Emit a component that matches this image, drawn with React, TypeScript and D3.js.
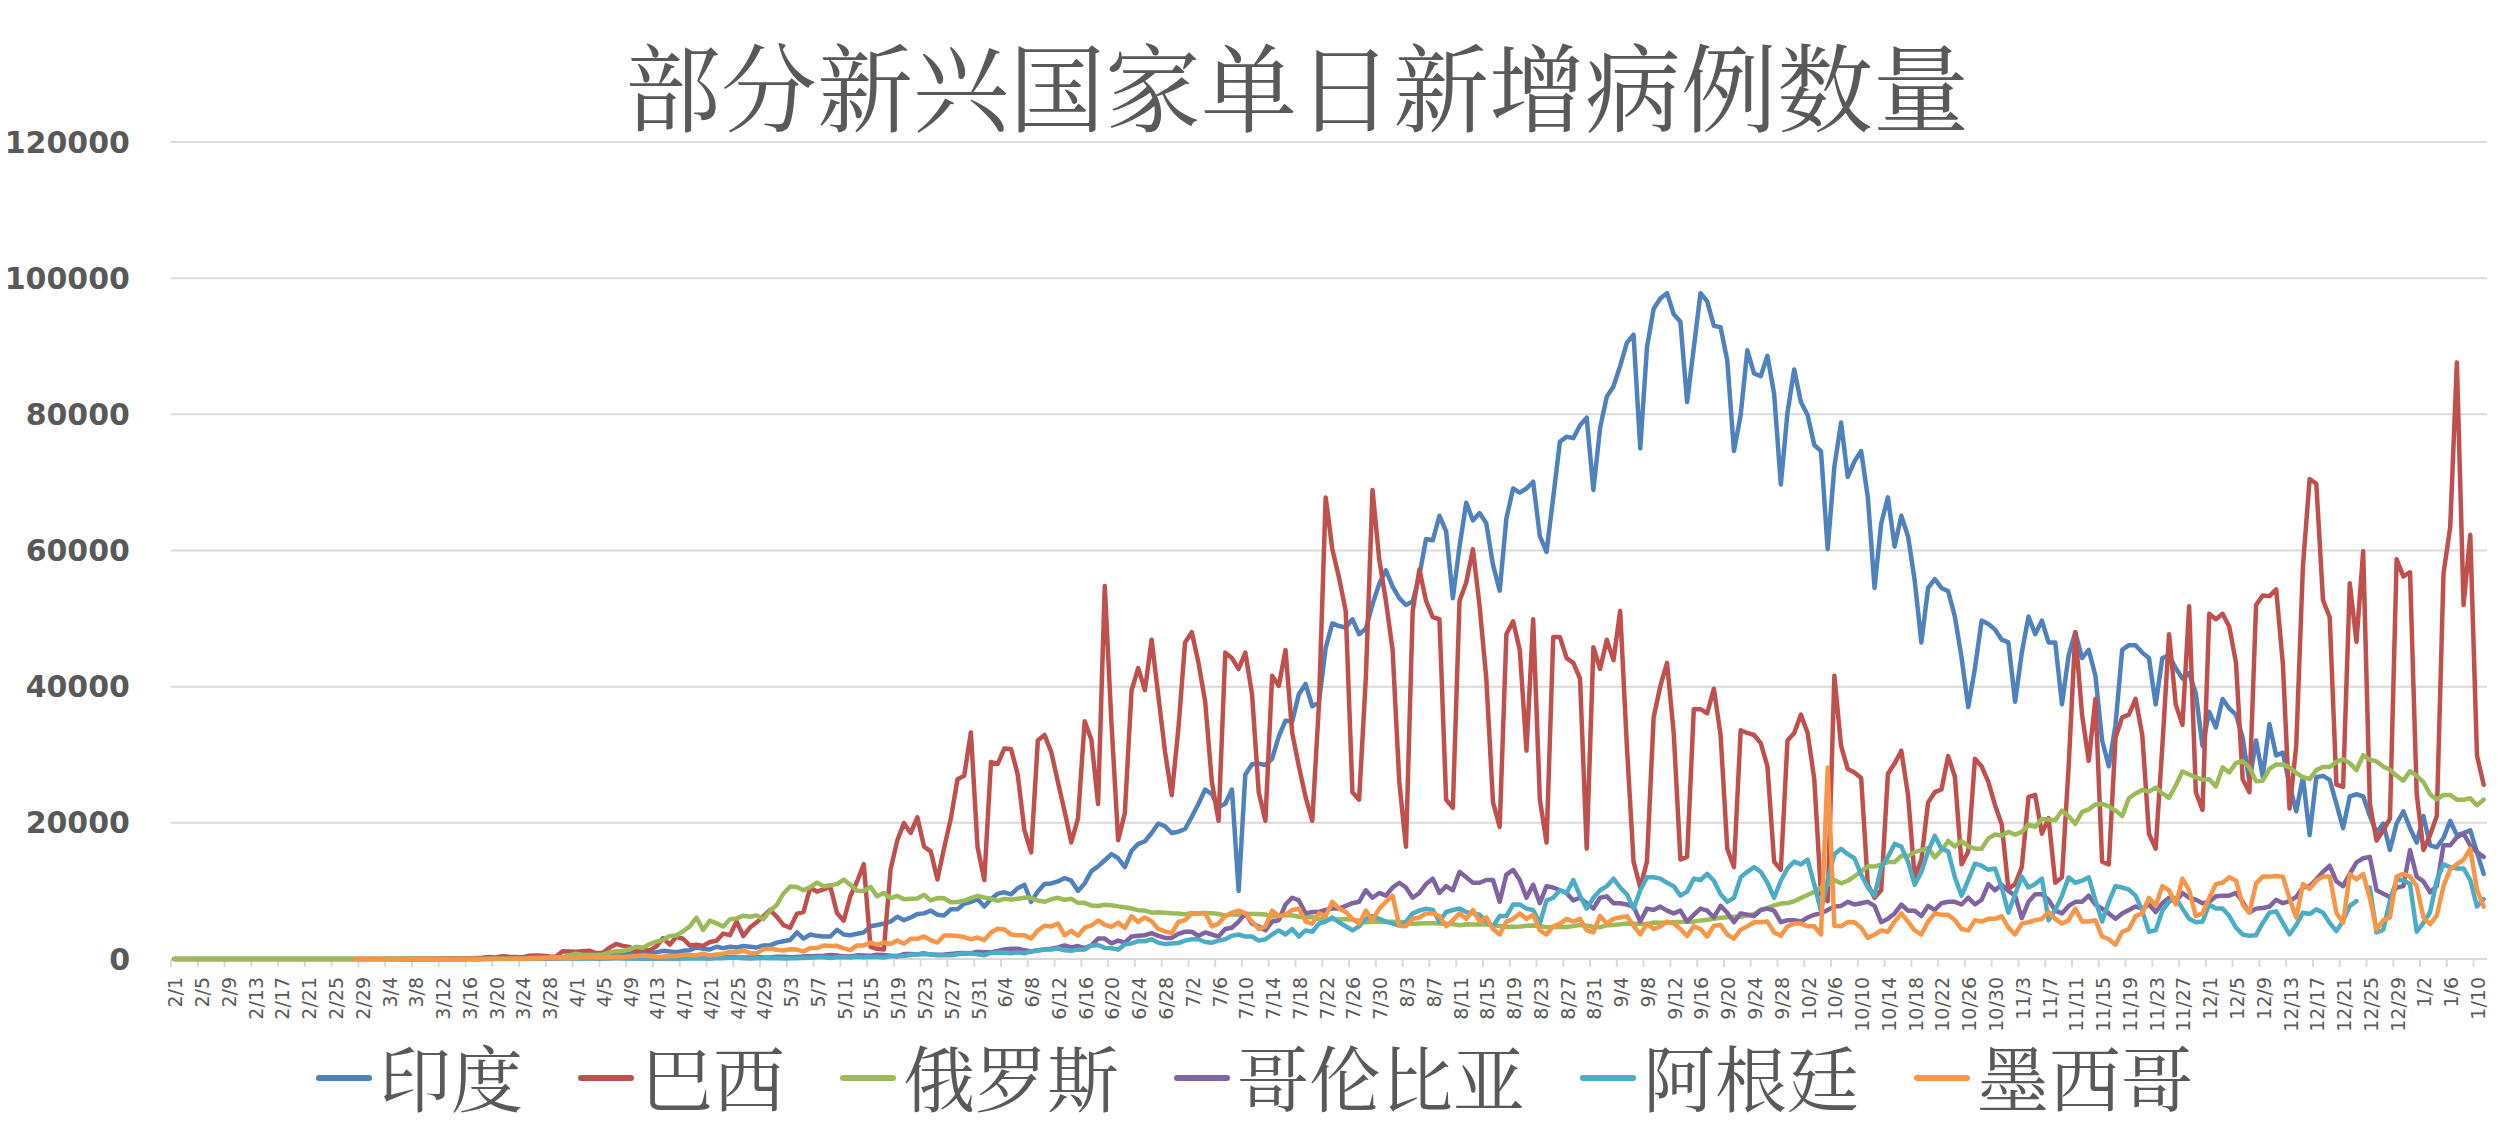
import * as d3 from 'd3'

// --- DATA ---
// one value per day, 2020-02-01 .. 2021-01-11 (346 days); null = not reported yet
const dates: string[] = d3
  .timeDay.range(new Date(2020, 1, 1), new Date(2021, 0, 12))
  .map(d3.timeFormat('%-m/%-d'))

const india: (number | null)[] = [
  // Feb
  0,0,0,0,0,0,0,0,0,0, 0,0,0,0,0,0,0,0,0,0, 0,0,0,0,0,0,0,0,0,
  // Mar
  0,2,1,22,2,1,3,5,9,15, 8,10,10,12,11,6,23,14,38,50, 86,66,103,37,121,70,160,100,112,227, 146,
  // Apr
  400,500,550,600,700,650,700,650,800,900, 850,900,1000,1200,1100,1000,1200,1300,1700,1500, 1400,1800,1600,1800,1700,1900,1800,1700,2000,2000,
  // May
  2400,2600,2800,3900,3000,3600,3400,3300,3300,4300, 3600,3500,3700,3900,4800,5000,5200,5500,6200,5700, 6100,6600,6700,7100,6500,6400,7300,7300,8100,8400, 8800,
  // Jun
  7700,8800,9600,9800,9500,10400,10900,8400,9900,11000, 11100,11400,11900,11500,10000,11100,12900,13600,14500,15400, 14800,13500,15900,16900,17300,18500,19900,19500,18500,18700,
  // Jul
  19100,20900,22800,24900,24200,22300,22800,24900,10000,27100, 28600,28700,28500,29400,32700,35000,34900,38900,40400,37100, 37700,45700,49300,48900,48700,49900,47700,48500,52100,55100, 57100,
  // Aug
  54700,53000,52000,52500,56300,61700,61500,65100,62800,53000, 60600,67000,64400,65500,64000,57900,54100,64700,69100,68500, 69100,70100,62100,59800,67800,76000,76700,76500,78400,79500, 68900,
  // Sep
  78000,82600,84100,87100,90500,91700,75000,89800,95500,97000, 97800,94700,93600,81800,89800,97800,96600,93000,92800,87900, 74600,79900,89400,86000,85600,88600,83000,69700,80300,86600,
  // Oct
  81800,79900,75500,74600,60200,72300,78800,70800,73100,74600, 67800,54500,64000,67800,60600,65100,62100,55600,46500,54500, 55800,54500,54000,50300,44300,37000,42700,49700,49200,48400, 46900,
  // Nov
  46500,37800,45000,50300,47700,49700,46500,46500,37400,44600, 48000,44200,45400,41600,32100,28300,34400,45400,46100,46100, 45000,44200,37400,44200,44600,42700,41200,42000,39000,31300,
  // Dec
  36300,34000,38200,36800,35900,32500,26000,32100,26800,34500, 29900,30300,25600,21700,26700,18200,26700,26900,26300,22800, 19200,23900,24200,23900,21000,18500,19900,16000,19900,21700, 19200,
  // Jan
  17100,21000,16700,16400,17800,20300,18200,18500,18900,15700, 12500,
]

const brazil: (number | null)[] = [
  // Feb
  0,0,0,0,0,0,0,0,0,0, 0,0,0,0,0,0,0,0,0,0, 0,0,0,0,0,1,0,0,1,
  // Mar
  0,0,1,4,5,6,5,5,9,18, 25,21,23,79,34,57,137,193,283,224, 418,345,310,232,482,502,487,352,323,1138, 1119,
  // Apr
  1074,1146,1222,852,926,1661,2210,1930,1781,1089, 1442,1261,1832,3058,2105,3257,2976,1996,2089,1927, 2498,2678,3735,3503,5514,3379,4613,5385,6276,7218,
  // May
  6209,4970,4588,6633,6935,10503,9888,10222,10611,6760, 5632,9258,11385,13944,1800,1500,1400,13140,17408,19951, 18508,20803,16508,15813,11687,16324,20599,26417,26928,33274, 16409,
  // Jun
  11598,28936,28633,30925,30830,27075,18912,15654,32091,32913, 30412,25982,21704,17110,20647,34918,32188,22765,54771,34666, 17459,21432,39436,42725,39483,46907,38693,30476,24052,33846,
  // Jul
  46500,48000,43500,37800,26000,20300,45000,44200,42600,45000, 38900,24500,20300,41600,40100,45400,33200,28300,23800,20300, 37400,67800,60200,56000,51100,24500,23400,41200,68900,58700, 52600,
  // Aug
  45400,26000,16500,51100,57200,52600,50200,49900,23400,22200, 52600,55300,60200,51800,41200,23000,19400,47700,49600,45400, 30600,49900,23400,17100,47300,47300,44200,43500,41200,16200, 45800,
  // Sep
  42600,46900,43900,51100,31300,14300,10500,14300,35500,40100, 43500,33200,14600,15000,36700,36700,36100,39700,32900,16200, 13500,33600,33200,32900,31700,28300,14300,13100,32100,33200,
  // Oct
  35900,33200,26400,9500,8500,41600,31300,27900,27400,26600, 10900,9000,10100,27200,28700,30600,24100,12000,14600,23000, 24500,24900,29800,26800,13900,15800,29400,28300,26000,22600, 19800,
  // Nov
  10300,11000,13500,23800,24100,18400,20700,11200,12000,28300, 48000,35900,29100,38200,14300,13900,32500,35500,35900,38200, 32900,18400,16200,31300,47700,37400,34400,51800,24500,21900,
  // Dec
  50700,49900,50700,48800,43500,26400,24500,52000,53400,53300, 54300,43400,22100,31300,57700,70500,69800,52700,50200,25600, 25300,55200,46600,59900,22800,17400,18900,20600,58700,56200, 56800,
  // Jan
  24200,16000,18200,21000,56600,63400,87600,52000,62300,29900, 25600,
]

const russia: (number | null)[] = [
  // Feb
  0,0,0,0,0,0,0,0,0,0, 0,0,0,0,0,0,0,0,0,0, 0,0,0,0,0,0,0,0,0,
  // Mar
  0,1,0,0,1,6,0,3,0,1, 8,6,6,14,4,30,21,33,52,53, 54,61,71,57,163,182,196,228,270,302, 501,
  // Apr
  771,601,601,582,658,954,1154,1175,1459,1786, 1667,2186,2558,2774,3388,3448,4070,4785,6060,4268, 5642,5236,4774,5849,5966,6361,6198,6411,5841,7099,
  // May
  7933,9623,10633,10581,10102,10559,11231,10699,10817,11012, 11656,10899,10028,9974,10598,9200,9709,8926,9263,8764, 8849,8894,9434,8599,8946,8915,8338,8371,8572,8952, 9268,
  // Jun
  9035,8863,8536,8831,8726,8855,8984,8985,8595,8404, 8779,8987,8706,8835,8246,8248,7843,7790,7972,7889, 7728,7600,7425,7176,7113,6800,6852,6791,6719,6693,
  // Jul
  6556,6760,6632,6718,6736,6611,6368,6562,6509,6635, 6611,6615,6537,6248,6422,6428,6406,6214,6109,6170, 5842,5862,5848,5811,5871,5765,5635,5395,5475,5509, 5482,
  // Aug
  5462,5427,5394,5159,5204,5267,5241,5212,5189,5118, 4945,5102,5057,5065,5061,4969,4839,4718,4748,4767, 4870,4921,4852,4676,4696,4741,4711,4829,4980,4897, 4729,
  // Sep
  4670,4952,4995,5110,5205,5185,5195,5099,5363,5310, 5363,5406,5449,5509,5488,5670,5762,5905,6065,6148, 6196,6215,6431,6595,7212,7523,7867,8135,8232,8481,
  // Oct
  8945,9412,9859,10499,10888,11615,11115,11493,12126,12846, 13634,13592,13868,14231,14231,15150,15099,15700,15982,16319, 14922,15971,17340,16521,17347,16550,16202,16202,17717,18283, 18140,
  // Nov
  18665,18257,18648,19768,19404,20582,20498,20396,21798,20977, 19851,21608,21983,22702,22778,22410,21798,20985,23610,24318, 24822,24581,25173,24326,23675,25487,27543,27100,26683,26338,
  // Dec
  26402,25345,28145,27403,28782,29039,28137,26097,26190,27927, 28585,28585,28137,27328,26689,26431,27750,28214,28209,28948, 29350,28776,27747,29935,29258,29018,28284,27787,26900,26200, 27600,
  // Jan
  26900,26000,24200,23400,24100,24100,23400,23400,23600,22600, 23400,
]

const colombia: (number | null)[] = [
  // Feb
  null,null,null,null,null,null,null,null,null,null, null,null,null,null,null,null,null,null,null,null, null,null,null,null,null,null,null,null,null,
  // Mar
  null,null,null,null,null, 1,0,0,2,0, 6,0,7,8,11, 20,12,37,33,40, 44,52,76,49,86, 99,96,63,94,108, 100,
  // Apr
  144,96,104,79,81,92,205,102,129,95, 75,127,71,57,101,75,106,183,205,198, 81,217,211,298,241,211,231,274,239,230,
  // May
  338,334,260,304,369,386,442,490,595,514, 387,361,537,508,487,640,602,465,372,733, 739,662,832,640,618,654,752,858,897,859, 1064,
  // Jun
  1000,1000,1200,1400,1500,1500,1300,1100,1300,1400, 1500,1700,2000,1700,1900,1600,2000,3000,3000,2300, 2700,2400,3300,3400,3500,3800,3400,3100,3100,3700,
  // Jul
  4000,4000,3400,3900,3600,3300,4400,4600,5500,6700, 5200,4800,4200,5500,5700,8000,9000,8600,6700,6900, 6900,7200,7400,7400,7800,8200,8400,10100,9000,9700, 9300,
  // Aug
  10500,11200,10500,9000,9700,11000,11800,9700,10700,10100, 12800,12000,11200,11200,11600,11600,8400,12400,13100,11600, 9000,10900,8200,10700,10500,10100,9700,8600,9000,8200, 7400,
  // Sep
  9000,9200,8200,8200,8000,7700,5500,7400,7200,7700, 7100,6700,7100,5500,6500,7400,7100,6100,7800,6800, 5400,6700,6500,6300,7200,7400,7100,5400,5700,5700,
  // Oct
  5500,6100,6500,6700,7200,7700,7800,8400,8000,8200, 8400,7800,5400,5900,6700,8000,7100,7100,6300,7800, 7200,8200,8400,8400,8000,9000,8000,8700,11000,10100, 10900,
  // Nov
  10000,9300,6000,8400,9500,9500,8700,7100,6700,7800, 8400,8400,9300,8000,7400,6700,5900,6700,7200,7700, 7400,8000,6900,8200,9000,8400,9700,9000,8700,8200,
  // Dec
  8400,9200,9300,9300,9700,8400,6800,7400,7500,7700, 8700,8200,8500,9100,10500,10700,11700,12800,13700,11400, 10700,12500,14200,14800,15000,10100,9600,9100,10500,10700, 16000,
  // Jan
  12100,11400,9800,10700,16700,16700,17900,18400,16700,15700, 15000,
]

const argentina: (number | null)[] = [
  // Feb
  null,null,null,null,null,null,null,null,null,null, null,null,null,null,null,null,null,null,null,null, null,null,null,null,null,null,null,null,null,
  // Mar
  null,null, 1,0,0,6,1,2,0,2, 4,0,3,3,11,11,23,9,14,31, 30,67,41,35,86,87,115,101,55,75, 146,
  // Apr
  88,69,108,102,89,131,74,135,78,81, 80,77,60,142,119,116,95,56,86,85, 102,144,111,167,172,102,90,111,158,111,
  // May
  143,87,111,105,165,193,246,240,163,243, 240,211,316,255,345,307,200,447,474,438, 618,702,723,704,552,535,564,703,797,795, 706,
  // Jun
  554,904,949,929,840,983,827,1141,1226,1386, 1391,1531,1282,1208,1374,1393,1958,2060,1634,1581, 1377,2146,2285,2635,2606,2886,2401,2189,2262,2335,
  // Jul
  2700,2900,2900,2500,2400,2700,2900,3400,3600,3300, 3300,2700,2900,3600,4200,3600,4400,3300,4200,4000, 5200,5500,6100,5400,4800,4200,4800,5900,6300,5900, 5500,
  // Aug
  5200,4900,5500,6700,7100,7400,7200,5500,6900,7200, 7400,6900,6700,6500,5500,4800,6300,6300,8000,8000, 7400,7200,5200,8600,9000,10100,9700,11600,9300,7400, 9000,
  // Sep
  10100,10700,11800,10500,9500,7400,10100,12000,12000,11800, 11200,10700,9300,9900,11800,11600,12500,11500,9500,8400, 9000,12000,12800,13500,12800,11200,9000,11500,13300,14300,
  // Oct
  13900,14600,10900,7100,11600,15400,16200,15400,14800,12400, 10500,9300,13500,15000,16900,16500,14300,10900,12800,15800, 18100,16200,15800,12000,9300,11600,14000,13700,13100,13300, 10500,
  // Nov
  6800,9500,12100,10500,11000,11800,5700,7200,9300,12000, 11200,11500,12000,8600,5500,8400,10700,10500,10200,9300, 7100,4000,4200,7100,8400,9000,7400,5900,5400,5500,
  // Dec (12/24 missing)
  8000,7400,7400,6300,4600,3600,3400,3500,5300,6800, 7000,5300,3600,5000,6800,6600,7300,6800,5300,4100, 5600,7800,8500,null,10500,3900,4300,8600,11600,11600, 11000,
  // Jan
  4000,5300,6900,11600,13900,13500,13300,13300,11600,7700, 8800,
]

const mexico: (number | null)[] = [
  // Feb
  null,null,null,null,null,null,null,null,null,null, null,null,null,null,null,null,null,null,null,null, null,null,null,null,null,null,null,1,3,
  // Mar
  0,1,0,0,0,2,0,0,0,0, 4,4,0,15,14,12,29,11,25,46, 39,48,65,51,115,70,110,132,145,155, 163,
  // Apr
  185,257,283,232,257,256,324,296,363,424, 497,486,305,352,486,447,606,578,552,764, 525,667,780,1043,970,1239,852,833,1425,1515,
  // May
  1349,1239,1434,1383,1120,1608,1609,1982,1906,1938, 1562,1305,1997,1992,2409,2112,2414,2200,2713,2248, 2973,2960,3329,2764,2414,3455,3463,3377,3227,2885, 3152,
  // Jun
  2771,3891,4442,4346,3593,3484,3484,2999,4199,4883, 4790,5222,3494,4147,3427,4599,4930,5662,5030,4717, 5343,4577,6288,5441,6104,5546,4410,4050,3805,5432,
  // Jul
  5700,6700,6700,6800,4800,5200,6300,6800,7100,6700, 5500,4400,4800,7100,6300,6500,7200,7400,5500,5200, 6700,6300,8400,7400,6900,5900,5200,7100,5700,7400, 8400,
  // Aug
  9300,4900,4800,5900,6100,6700,6700,6300,4800,5700, 6700,5900,7200,5500,6100,4400,3600,5500,5900,6700, 5900,6500,4200,3600,4800,5200,5900,5500,5900,4200, 3900,
  // Sep
  6300,5200,5900,6100,6300,4900,3600,5200,4400,4800, 5500,5200,4400,3400,4800,4400,3300,4900,5000,3600, 3000,4300,4800,5400,5400,5500,3900,3400,4800,5200,
  // Oct
  5200,4800,4800,3600,28115,4900,4800,5400,5400,4600, 3100,3600,4200,4000,5500,6700,5500,4200,3600,5500, 6700,6500,6500,5700,4400,4200,5700,5500,5900,5900, 6300,
  // Nov
  4600,3600,5200,5400,5700,5900,6900,5900,5200,5700, 7400,5500,5500,5700,3300,2900,2100,4000,4400,6300, 6700,9000,7800,10700,10100,8000,11800,10100,6300,6700,
  // Dec
  9000,11000,11200,12000,11500,8000,6800,11100,12100,12100, 12200,12100,8900,6100,11000,10300,11500,12100,12100,6800, 5300,12500,11700,12500,8900,4300,5700,6100,12100,12500, 12100,
  // Jan
  10700,6100,5100,6400,10700,13200,13900,14600,16200,10200, 7700,
]

const yTicks = [0, 20000, 40000, 60000, 80000, 100000, 120000]

const series = [
  { name: '印度', color: '#4F81BD', values: india },
  { name: '巴西', color: '#C0504D', values: brazil },
  { name: '俄罗斯', color: '#9BBB59', values: russia },
  { name: '哥伦比亚', color: '#8064A2', values: colombia },
  { name: '阿根廷', color: '#4BACC6', values: argentina },
  { name: '墨西哥', color: '#F79646', values: mexico },
]

// --- LAYOUT ---
const WIDTH = 2506
const HEIGHT = 1128
const PLOT_LEFT = 171
const PLOT_RIGHT = 2487
const PLOT_TOP = 142
const PLOT_BOTTOM = 959
const TEXT = '#595959'
const GRID = '#D9D9D9'
const CJK = '"Noto Serif CJK SC", "Noto Sans CJK SC", "Noto Sans", sans-serif'

export default function App() {
  const x = d3.scaleBand<string>().domain(dates).range([PLOT_LEFT, PLOT_RIGHT]).padding(0)
  const bw = x.bandwidth()
  const cx = (i: number) => (x(dates[i]) ?? 0) + bw / 2

  const y = d3.scaleLinear().domain([0, 120000]).range([PLOT_BOTTOM, PLOT_TOP])

  const line = d3
    .line<number | null>()
    .defined((v) => v != null)
    .x((_, i) => cx(i))
    .y((v) => y(v as number))

  // every 4th category gets a tick + label
  const tickIdx = dates.map((_, i) => i).filter((i) => i % 4 === 0)

  // legend: marker, label, gap
  const legendFont = 72
  let lx = 316
  const legendItems = series.map((s) => {
    const item = { ...s, x: lx }
    lx += 56 + 7 + s.name.length * legendFont + 55
    return item
  })

  return (
    <div style={{ position: 'fixed', left: 0, top: 0, background: '#fff' }}>
      <svg width={WIDTH} height={HEIGHT} style={{ display: 'block' }}>
        <rect width={WIDTH} height={HEIGHT} fill="#fff" />

        <text
          x={1297}
          y={82}
          textAnchor="middle"
          dominantBaseline="central"
          fontFamily={CJK}
          fontSize={96}
          fill={TEXT}
        >
          部分新兴国家单日新增病例数量
        </text>

        {/* grid + y labels */}
        {yTicks.map((t) => (
          <g key={t}>
            <line x1={PLOT_LEFT} x2={PLOT_RIGHT} y1={y(t)} y2={y(t)} stroke={GRID} strokeWidth={2} />
            <text
              x={130}
              y={y(t)}
              textAnchor="end"
              dominantBaseline="central"
              fontFamily='"DejaVu Sans", Verdana, sans-serif'
              fontWeight="bold"
              fontSize={30}
              fill={TEXT}
            >
              {t}
            </text>
          </g>
        ))}

        {/* x ticks + labels */}
        {tickIdx.map((i) => {
          const tx = x(dates[i]) ?? 0
          const lxp = cx(i) + 1
          return (
            <g key={i}>
              <line x1={tx} x2={tx} y1={PLOT_BOTTOM} y2={PLOT_BOTTOM + 8} stroke={GRID} strokeWidth={2} />
              <text
                x={lxp}
                y={977}
                transform={`rotate(-90, ${lxp}, 977)`}
                textAnchor="end"
                dominantBaseline="central"
                fontFamily='"DejaVu Sans", sans-serif'
                fontSize={19}
                fill={TEXT}
              >
                {dates[i]}
              </text>
            </g>
          )
        })}

        {/* series */}
        {series.map((s) => (
          <path
            key={s.name}
            d={line(s.values) ?? ''}
            fill="none"
            stroke={s.color}
            strokeWidth={4.5}
            strokeLinejoin="round"
            strokeLinecap="round"
          />
        ))}

        {/* legend */}
        {legendItems.map((s) => (
          <g key={s.name}>
            <line
              x1={s.x + 3}
              x2={s.x + 53}
              y1={1078}
              y2={1078}
              stroke={s.color}
              strokeWidth={6}
              strokeLinecap="round"
            />
            <text
              x={s.x + 63}
              y={1075}
              dominantBaseline="central"
              fontFamily={CJK}
              fontSize={legendFont}
              fill={TEXT}
            >
              {s.name}
            </text>
          </g>
        ))}
      </svg>
    </div>
  )
}
